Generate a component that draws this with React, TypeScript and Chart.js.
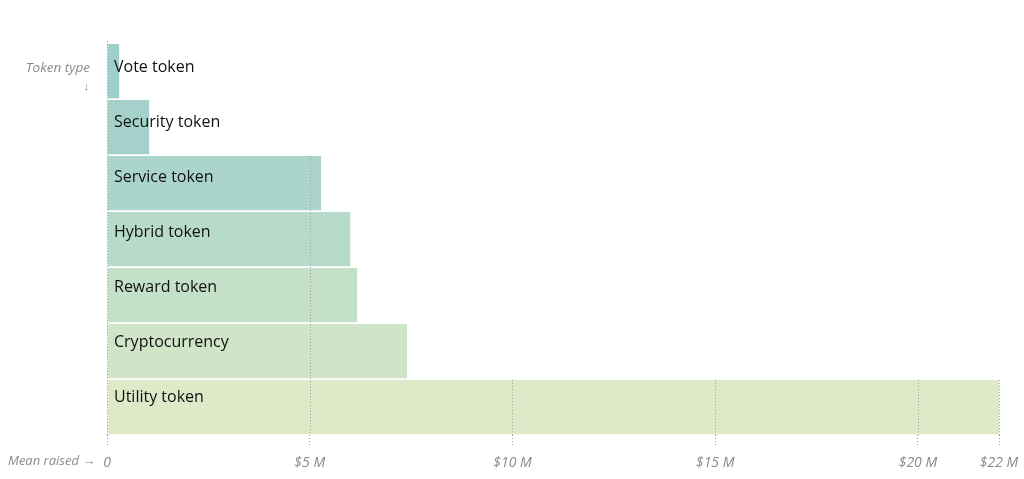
import React, { useEffect, useRef } from "react";
import { Chart, registerables } from "chart.js";

Chart.register(...registerables);

const categories = ["Vote token", "Security token", "Service token", "Hybrid token", "Reward token", "Cryptocurrency", "Utility token"];
const meanRaised = [0.3, 1.04, 5.28, 6.0, 6.17, 7.4, 22.0];
const tickValues = [0, 5, 10, 15, 20, 22];
const barColors = ["#9fcfca", "#a4d1ca", "#abd5cb", "#b7dbca", "#c4e0c9", "#d0e4c8", "#dee9c8"];

const FONT = '"Open Sans", "Noto Sans", sans-serif';

const annotations = {
  id: "annotations",
  afterDatasetsDraw(chart: any) {
    const ctx = chart.ctx;
    const y = chart.scales.y;
    const x = chart.scales.x;
    const meta = chart.getDatasetMeta(0);
    ctx.save();
    // dotted grid lines reaching up to the highest bar that crosses each tick
    ctx.strokeStyle = "#a0a0a0";
    ctx.lineWidth = 1;
    ctx.setLineDash([1, 2]);
    tickValues.forEach((t) => {
      let top = chart.chartArea.bottom;
      for (let i = 0; i < meanRaised.length; i++) {
        if (meanRaised[i] >= t - 1e-6) {
          const el = meta.data[i];
          top = el.y - el.height / 2 - (i === 0 ? 3 : 0);
          break;
        }
      }
      const px = Math.round(x.getPixelForValue(t)) + 0.5;
      ctx.beginPath();
      ctx.moveTo(px, top);
      ctx.lineTo(px, chart.chartArea.bottom);
      ctx.stroke();
    });
    ctx.setLineDash([]);
    ctx.font = `16px ${FONT}`;
    ctx.fillStyle = "#111";
    ctx.textBaseline = "middle";
    ctx.textAlign = "left";
    categories.forEach((c, i) => {
      ctx.fillText(c, x.left + 7, y.getPixelForValue(i) - 3.5 - i);
    });
    ctx.fillStyle = "#8a8a8a";
    ctx.font = `italic 13.5px ${FONT}`;
    ctx.textAlign = "right";
    ctx.fillText("Token type", 90, 68);
    ctx.font = `11px ${FONT}`;
    ctx.fillText("↓", 89, 87);
    ctx.font = `italic 13px ${FONT}`;
    ctx.textAlign = "left";
    ctx.fillText("Mean raised →", 8, 461);
    ctx.restore();
  },
};

export default function App() {
  const ref = useRef<HTMLCanvasElement>(null);
  useEffect(() => {
    document.body.style.margin = "0";
    const chart = new Chart(ref.current!, {
      type: "bar",
      data: {
        labels: categories,
        datasets: [
          {
            data: meanRaised,
            backgroundColor: barColors,
            borderWidth: 0,
            barPercentage: 0.968,
            categoryPercentage: 1,
          },
        ],
      },
      options: {
        indexAxis: "y",
        animation: false,
        responsive: true,
        maintainAspectRatio: false,
        layout: { padding: { left: 107, right: 25, top: 43, bottom: -1 } },
        plugins: { legend: { display: false }, tooltip: { enabled: false } },
        scales: {
          y: { display: false },
          x: {
            type: "linear",
            min: 0,
            max: 22,
            afterBuildTicks(scale: any) {
              scale.ticks = tickValues.map((v) => ({ value: v }));
            },
            afterFit(scale: any) {
              scale.paddingRight = 0;
              scale.paddingLeft = 0;
            },
            border: { display: false },
            grid: {
              color: "#a0a0a0",
              lineWidth: 1,
              tickLength: 10,
              drawTicks: true,
              drawOnChartArea: false,
              tickBorderDash: [1, 2],
            },
            ticks: {
              padding: 9,
              color: "#8a8a8a",
              font: { family: FONT, size: 14, style: "italic" },
              callback: (v: any) => (v === 0 ? "0" : `$${v} M`),
              maxRotation: 0,
              autoSkip: false,
            },
          },
        },
      },
      plugins: [annotations],
    } as any);
    return () => chart.destroy();
  }, []);
  return (
    <div style={{ width: 1024, height: 479, position: "relative" }}>
      <canvas ref={ref} />
    </div>
  );
}
